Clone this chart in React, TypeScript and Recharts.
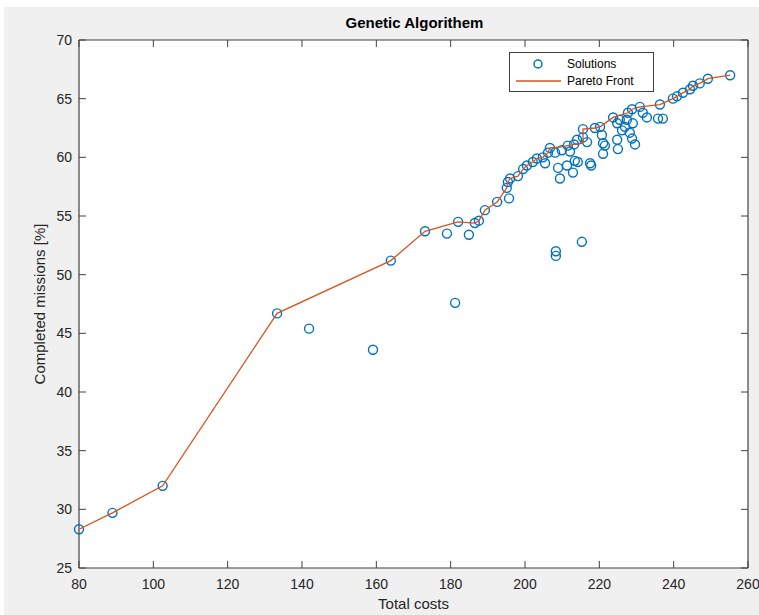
import React from "react";
import { Scatter, ScatterChart, XAxis, YAxis } from "recharts";

// all solutions from the GA run (cost, completed %)
const solutions = [
  { x: 80, y: 28.3 }, { x: 89, y: 29.7 }, { x: 102.5, y: 32.0 },
  { x: 133.3, y: 46.7 }, { x: 141.9, y: 45.4 }, { x: 159.1, y: 43.6 },
  { x: 163.9, y: 51.2 }, { x: 173.1, y: 53.7 }, { x: 179.0, y: 53.5 },
  { x: 181.2, y: 47.6 }, { x: 182.0, y: 54.5 }, { x: 184.9, y: 53.4 },
  { x: 186.5, y: 54.4 }, { x: 187.6, y: 54.6 }, { x: 189.2, y: 55.5 },
  { x: 192.5, y: 56.2 }, { x: 195.7, y: 56.5 }, { x: 195.1, y: 57.4 },
  { x: 195.4, y: 57.9 }, { x: 196.0, y: 58.2 }, { x: 198.1, y: 58.4 },
  { x: 199.5, y: 59.0 }, { x: 200.5, y: 59.3 }, { x: 202.1, y: 59.6 },
  { x: 203.2, y: 59.9 }, { x: 204.8, y: 60.0 }, { x: 205.4, y: 59.5 },
  { x: 206.2, y: 60.4 }, { x: 206.7, y: 60.8 }, { x: 208.1, y: 60.4 },
  { x: 208.9, y: 59.1 }, { x: 209.4, y: 58.2 }, { x: 209.9, y: 60.6 },
  { x: 211.3, y: 59.3 }, { x: 211.5, y: 61.0 }, { x: 212.1, y: 60.5 },
  { x: 212.9, y: 58.7 }, { x: 213.2, y: 61.1 }, { x: 213.4, y: 59.7 },
  { x: 214.0, y: 61.5 }, { x: 214.2, y: 59.6 }, { x: 215.6, y: 61.7 },
  { x: 215.6, y: 62.4 }, { x: 216.7, y: 61.3 }, { x: 217.5, y: 59.5 },
  { x: 217.8, y: 59.3 }, { x: 218.8, y: 62.5 }, { x: 220.2, y: 62.6 },
  { x: 220.7, y: 61.9 }, { x: 221.0, y: 61.2 }, { x: 221.0, y: 60.3 },
  { x: 221.5, y: 61.0 }, { x: 223.7, y: 63.4 }, { x: 224.8, y: 62.9 },
  { x: 225.5, y: 63.2 }, { x: 226.1, y: 62.3 }, { x: 224.8, y: 61.5 },
  { x: 225.0, y: 60.7 }, { x: 226.9, y: 62.6 }, { x: 227.4, y: 63.2 },
  { x: 227.7, y: 63.8 }, { x: 228.8, y: 64.1 }, { x: 229.0, y: 62.9 },
  { x: 228.2, y: 62.1 }, { x: 228.8, y: 61.6 }, { x: 229.6, y: 61.1 },
  { x: 230.9, y: 64.3 }, { x: 231.7, y: 63.8 }, { x: 232.8, y: 63.4 },
  { x: 235.8, y: 63.3 }, { x: 237.1, y: 63.3 }, { x: 236.3, y: 64.5 },
  { x: 239.8, y: 65.0 }, { x: 240.9, y: 65.2 }, { x: 242.5, y: 65.5 },
  { x: 244.4, y: 65.8 }, { x: 245.2, y: 66.1 }, { x: 247.0, y: 66.3 },
  { x: 249.2, y: 66.7 }, { x: 255.2, y: 67.0 },
  { x: 208.3, y: 52.0 }, { x: 208.3, y: 51.6 }, { x: 215.3, y: 52.8 },
];

// non-dominated solutions, sorted by cost
const paretoFront = [
  { x: 80, y: 28.3 }, { x: 89, y: 29.7 }, { x: 102.5, y: 32.0 },
  { x: 133.3, y: 46.7 }, { x: 163.9, y: 51.2 }, { x: 173.1, y: 53.7 },
  { x: 182.0, y: 54.5 }, { x: 186.5, y: 54.4 }, { x: 187.6, y: 54.6 },
  { x: 189.2, y: 55.5 }, { x: 192.5, y: 56.2 }, { x: 195.1, y: 57.4 },
  { x: 195.4, y: 57.9 }, { x: 196.0, y: 58.2 }, { x: 198.1, y: 58.4 },
  { x: 199.5, y: 59.0 }, { x: 200.5, y: 59.3 }, { x: 202.1, y: 59.6 },
  { x: 203.2, y: 59.9 }, { x: 204.8, y: 60.0 }, { x: 206.2, y: 60.4 },
  { x: 206.7, y: 60.8 }, { x: 209.9, y: 60.9 }, { x: 213.2, y: 61.1 },
  { x: 215.6, y: 61.2 }, { x: 215.6, y: 62.4 }, { x: 218.8, y: 62.5 },
  { x: 220.2, y: 62.6 }, { x: 223.7, y: 63.4 }, { x: 227.7, y: 63.8 },
  { x: 228.8, y: 64.1 }, { x: 230.9, y: 64.3 }, { x: 236.3, y: 64.5 },
  { x: 239.8, y: 65.0 }, { x: 240.9, y: 65.2 }, { x: 242.5, y: 65.5 },
  { x: 244.4, y: 65.8 }, { x: 245.2, y: 66.1 }, { x: 247.0, y: 66.3 },
  { x: 249.2, y: 66.7 }, { x: 255.2, y: 67.0 },
];

const xTicks = [80, 100, 120, 140, 160, 180, 200, 220, 240, 260];
const yTicks = [25, 30, 35, 40, 45, 50, 55, 60, 65, 70];

const FONT = "'Liberation Sans', Arial, Helvetica, sans-serif";
const AXIS = "#404040";
const BLUE = "#0072bd";
const ORANGE = "#d95319";
const TICK_LEN = 7;

// plot box: x 79..748, y 40..568 (axes take 1px each)
const plot = { left: 79, top: 40, right: 748, bottom: 568 };
const margin = { top: plot.top - 1, right: 759 - plot.right - 1, bottom: 615 - plot.bottom - 1, left: plot.left - 1 };

const BottomTick = ({ x, y, payload }: any) => (
  <g>
    <line x1={x} x2={x} y1={y} y2={y - TICK_LEN} stroke={AXIS} />
    <text x={x} y={y + 21} textAnchor="middle" fontSize={14} fill="#262626" fontFamily={FONT}>
      {payload.value}
    </text>
  </g>
);

const TopTick = ({ x, y }: any) => (
  <line x1={x} x2={x} y1={y} y2={y + TICK_LEN} stroke={AXIS} />
);

const LeftTick = ({ x, y, payload }: any) => (
  <g>
    <line x1={x} x2={x + TICK_LEN} y1={y} y2={y} stroke={AXIS} />
    <text x={x - 7} y={y + 5} textAnchor="end" fontSize={14} fill="#262626" fontFamily={FONT}>
      {payload.value}
    </text>
  </g>
);

const RightTick = ({ x, y }: any) => (
  <line x1={x} x2={x - TICK_LEN} y1={y} y2={y} stroke={AXIS} />
);

const Ring = ({ cx, cy }: any) => (
  <circle cx={cx} cy={cy} r={4.5} fill="none" stroke={BLUE} strokeWidth={1.4} />
);

export default function App() {
  const plotW = plot.right - plot.left;
  const plotH = plot.bottom - plot.top;
  return (
    <div style={{ position: "fixed", left: 0, top: 0, width: 759, height: 615, background: "#fff", fontFamily: FONT }}>
      <div style={{ position: "absolute", left: 4, top: 7, right: 0, bottom: 0, background: "#f0f0f0" }} />
      <div style={{ position: "absolute", left: plot.left, top: plot.top, width: plotW, height: plotH, background: "#fff" }} />
      <ScatterChart width={759} height={615} margin={margin} style={{ position: "absolute", left: 0, top: 0 }}>
        <XAxis
          type="number"
          dataKey="x"
          domain={[80, 260]}
          ticks={xTicks}
          height={1}
          tickSize={0}
          tickMargin={0}
          tickLine={false}
          axisLine={{ stroke: AXIS, strokeWidth: 1.2 }}
          tick={<BottomTick />}
          interval={0}
        />
        <XAxis
          xAxisId="top"
          orientation="top"
          type="number"
          dataKey="x"
          domain={[80, 260]}
          ticks={xTicks}
          height={1}
          tickSize={0}
          tickMargin={0}
          tickLine={false}
          axisLine={{ stroke: AXIS, strokeWidth: 1.2 }}
          tick={<TopTick />}
          interval={0}
        />
        <YAxis
          type="number"
          dataKey="y"
          domain={[25, 70]}
          ticks={yTicks}
          width={1}
          tickSize={0}
          tickMargin={0}
          tickLine={false}
          axisLine={{ stroke: AXIS, strokeWidth: 1.2 }}
          tick={<LeftTick />}
          interval={0}
        />
        <YAxis
          yAxisId="right"
          orientation="right"
          type="number"
          dataKey="y"
          domain={[25, 70]}
          ticks={yTicks}
          width={1}
          tickSize={0}
          tickMargin={0}
          tickLine={false}
          axisLine={{ stroke: AXIS, strokeWidth: 1.2 }}
          tick={<RightTick />}
          interval={0}
        />
        <Scatter data={solutions} shape={<Ring />} isAnimationActive={false} />
        <Scatter
          data={paretoFront}
          line={{ stroke: ORANGE, strokeWidth: 1.3 }}
          lineType="joint"
          shape={() => <g />}
          isAnimationActive={false}
        />
        <Scatter xAxisId="top" yAxisId="right" data={[{ x: 80, y: 25 }]} shape={() => <g />} isAnimationActive={false} />
      </ScatterChart>

      <div style={{ position: "absolute", left: 0, width: 759, top: 14, textAlign: "center", paddingLeft: 70, boxSizing: "border-box", fontSize: 15, fontWeight: "bold", color: "#000" }}>
        Genetic Algorithem
      </div>
      <div style={{ position: "absolute", left: plot.left, width: plotW, top: 595, textAlign: "center", fontSize: 15, color: "#262626" }}>
        Total costs
      </div>
      <div
        style={{
          position: "absolute",
          left: 40 - 150,
          top: 304 - 10,
          width: 300,
          height: 20,
          lineHeight: "20px",
          textAlign: "center",
          transform: "rotate(-90deg)",
          fontSize: 15,
          color: "#262626",
        }}
      >
        Completed missions [%]
      </div>

      <div style={{ position: "absolute", left: 509, top: 52, width: 145, height: 40, background: "#fff", border: `1px solid ${AXIS}`, boxSizing: "border-box" }}>
        <svg width={145} height={40} style={{ position: "absolute", left: -1, top: -1 }}>
          <circle cx={29} cy={12} r={4} fill="none" stroke={BLUE} strokeWidth={1.5} />
          <line x1={7} x2={52} y1={29} y2={29} stroke={ORANGE} strokeWidth={1.3} />
          <text x={58} y={16} fontSize={12} fill="#000" fontFamily={FONT}>Solutions</text>
          <text x={58} y={33} fontSize={12} fill="#000" fontFamily={FONT}>Pareto Front</text>
        </svg>
      </div>
    </div>
  );
}
